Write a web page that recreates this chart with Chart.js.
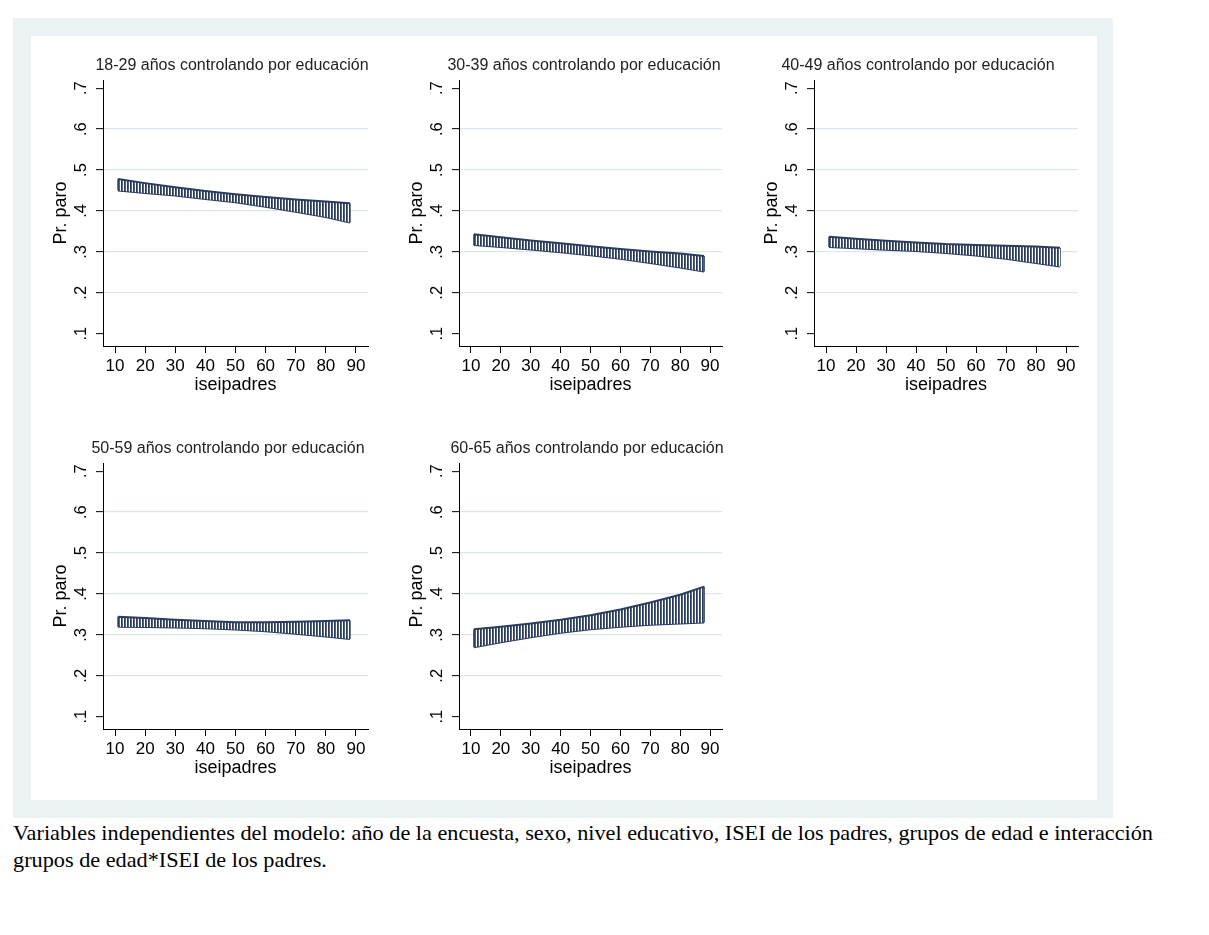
<!DOCTYPE html>
<html><head><meta charset="utf-8">
<script src="https://cdn.jsdelivr.net/npm/chart.js@4"></script>
<style>
body{margin:0;background:#fff;width:1209px;height:935px;position:relative;overflow:hidden;font-family:"Liberation Sans",Arial,sans-serif}
#outer{position:absolute;left:13px;top:18px;width:1100px;height:800px;background:#eaf2f3}
#inner{position:absolute;left:31px;top:36px;width:1066px;height:764px;background:#fff}
canvas{position:absolute}
#note{position:absolute;left:13px;top:819px;font-family:"Liberation Serif","Times New Roman",serif;font-size:22px;line-height:27px;color:#000;white-space:nowrap;transform-origin:0 0}
</style></head><body>
<div id="outer"></div><div id="inner"></div>
<div id="note">Variables independientes del modelo: año de la encuesta, sexo, nivel educativo, ISEI de los padres, grupos de edad e interacción<br>grupos de edad*ISEI de los padres.</div>
<script>
// ---- data ----
const xVals = [11, 20, 30, 40, 50, 60, 70, 80, 88];
const xTicks = [10, 20, 30, 40, 50, 60, 70, 80, 90];
const yTicks = [0.1, 0.2, 0.3, 0.4, 0.5, 0.6, 0.7];
const yTickLabels = ['.1', '.2', '.3', '.4', '.5', '.6', '.7'];
const panelTitles = [
  '18-29 años controlando por educación',
  '30-39 años controlando por educación',
  '40-49 años controlando por educación',
  '50-59 años controlando por educación',
  '60-65 años controlando por educación'
];
const est_18_29   = [0.464, 0.456, 0.448, 0.439, 0.431, 0.422, 0.413, 0.404, 0.396];
const upper_18_29 = [0.478, 0.468, 0.458, 0.449, 0.441, 0.434, 0.428, 0.423, 0.419];
const lower_18_29 = [0.450, 0.444, 0.438, 0.429, 0.421, 0.410, 0.398, 0.385, 0.372];

const est_30_39   = [0.330, 0.324, 0.317, 0.310, 0.303, 0.295, 0.287, 0.279, 0.271];
const upper_30_39 = [0.343, 0.336, 0.328, 0.321, 0.314, 0.307, 0.301, 0.296, 0.290];
const lower_30_39 = [0.317, 0.312, 0.306, 0.299, 0.292, 0.283, 0.273, 0.262, 0.252];

const est_40_49   = [0.324, 0.320, 0.316, 0.312, 0.308, 0.304, 0.299, 0.293, 0.287];
const upper_40_49 = [0.337, 0.332, 0.327, 0.323, 0.319, 0.317, 0.315, 0.313, 0.310];
const lower_40_49 = [0.312, 0.309, 0.305, 0.302, 0.297, 0.291, 0.283, 0.273, 0.264];

const est_50_59   = [0.332, 0.330, 0.327, 0.325, 0.322, 0.320, 0.317, 0.315, 0.313];
const upper_50_59 = [0.344, 0.341, 0.337, 0.334, 0.331, 0.331, 0.332, 0.334, 0.336];
const lower_50_59 = [0.320, 0.319, 0.318, 0.316, 0.313, 0.309, 0.303, 0.296, 0.290];

const est_60_65   = [0.292, 0.301, 0.311, 0.321, 0.331, 0.341, 0.352, 0.363, 0.374];
const upper_60_65 = [0.314, 0.320, 0.328, 0.337, 0.348, 0.362, 0.379, 0.398, 0.418];
const lower_60_65 = [0.270, 0.282, 0.294, 0.305, 0.314, 0.320, 0.325, 0.328, 0.330];

// ---- style / layout ----
const NAVY = '#2b3d5c';
const GRID = '#dde6ea';
const FONT = '"Liberation Sans", Arial, sans-serif';
Chart.defaults.font.family = FONT;

const pc = document.createElement('canvas'); pc.width = 3; pc.height = 1;
const pctx = pc.getContext('2d');
pctx.fillStyle = '#ffffff'; pctx.fillRect(0, 0, 3, 1);
pctx.fillStyle = NAVY; pctx.fillRect(0, 0, 1, 1);
pctx.fillStyle = 'rgba(43,61,92,0.8)'; pctx.fillRect(1, 0, 1, 1);
const stripes = pctx.createPattern(pc, 'repeat');

const panels = [
  {title: panelTitles[0], est: est_18_29, up: upper_18_29, lo: lower_18_29, left: 28,  top: 40,  right: 378,  tx: 232},
  {title: panelTitles[1], est: est_30_39, up: upper_30_39, lo: lower_30_39, left: 384, top: 40,  right: 732,  tx: 584},
  {title: panelTitles[2], est: est_40_49, up: upper_40_49, lo: lower_40_49, left: 739, top: 40,  right: 1088, tx: 918},
  {title: panelTitles[3], est: est_50_59, up: upper_50_59, lo: lower_50_59, left: 28,  top: 423, right: 378,  tx: 228},
  {title: panelTitles[4], est: est_60_65, up: upper_60_65, lo: lower_60_65, left: 384, top: 423, right: 732,  tx: 587}
];
const H = 356;

function pts(arr) { return xVals.map((x, i) => ({x: x, y: arr[i]})); }

panels.forEach(p => {
  const w = p.right - p.left;
  const cv = document.createElement('canvas');
  cv.width = w; cv.height = H;
  cv.style.left = p.left + 'px'; cv.style.top = p.top + 'px';
  cv.style.width = w + 'px'; cv.style.height = H + 'px';
  document.body.appendChild(cv);
  const n = xVals.length - 1;
  const line = {pointRadius: 0, borderColor: NAVY, fill: false, tension: 0};
  new Chart(cv, {
    type: 'line',
    data: {datasets: [
      Object.assign({}, line, {data: pts(p.up), borderWidth: 2, fill: '+1', backgroundColor: stripes}),
      Object.assign({}, line, {data: pts(p.lo), borderWidth: 2}),
      Object.assign({}, line, {data: pts(p.est), borderWidth: 1.3}),
      Object.assign({}, line, {data: [{x: xVals[0], y: p.lo[0]}, {x: xVals[0], y: p.up[0]}], borderWidth: 1.5}),
      Object.assign({}, line, {data: [{x: xVals[n], y: p.lo[n]}, {x: xVals[n], y: p.up[n]}], borderWidth: 1.5})
    ]},
    plugins: [{
      id: 'panelTitle',
      afterDraw(chart) {
        const c = chart.ctx;
        c.save();
        c.font = '16px ' + FONT;
        c.fillStyle = '#222';
        c.textAlign = 'center';
        c.textBaseline = 'middle';
        c.fillText(p.title, p.tx - p.left, 25.5);
        c.restore();
      }
    }],
    options: {
      responsive: false, animation: false,
      layout: {padding: {left: 0, right: 10, top: 40, bottom: 0}},
      plugins: {legend: {display: false}, tooltip: {enabled: false}, title: {display: false}},
      scales: {
        x: {
          type: 'linear', min: 6, max: 94,
          afterBuildTicks: s => { s.ticks = xTicks.map(v => ({value: v})); },
          afterFit: s => { s.height = 50; },
          grid: {drawOnChartArea: false, tickLength: 7, tickColor: '#000', tickWidth: 1},
          border: {display: true, color: '#000', width: 1},
          ticks: {font: {size: 17}, color: '#000', padding: 3, maxRotation: 0, minRotation: 0, autoSkip: false},
          title: {display: true, text: 'iseipadres', color: '#000', font: {size: 18}, padding: {top: 0, bottom: 0}}
        },
        y: {
          type: 'linear', min: 0.07, max: 0.72,
          afterBuildTicks: s => { s.ticks = yTicks.map(v => ({value: v})); },
          afterFit: s => { s.width = 75; },
          grid: {
            color: c => (c.index === 0 || c.index === yTicks.length - 1) ? 'rgba(0,0,0,0)' : GRID,
            lineWidth: 1.3, tickLength: 7, tickColor: '#000', tickWidth: 1
          },
          border: {display: true, color: '#000', width: 1},
          ticks: {font: {size: 16.5}, color: '#000', padding: 8, minRotation: 90, maxRotation: 90, crossAlign: 'center', autoSkip: false,
                  callback: (v, i) => yTickLabels[i]},
          title: {display: true, text: 'Pr. paro', color: '#000', font: {size: 18}, padding: {top: 22, bottom: 0}}
        }
      }
    }
  });
});

const note = document.getElementById('note');
const targetW = 1140;
const natW = note.getBoundingClientRect().width;
note.style.transform = 'scaleX(' + (targetW / natW) + ')';
</script>
</body></html>
